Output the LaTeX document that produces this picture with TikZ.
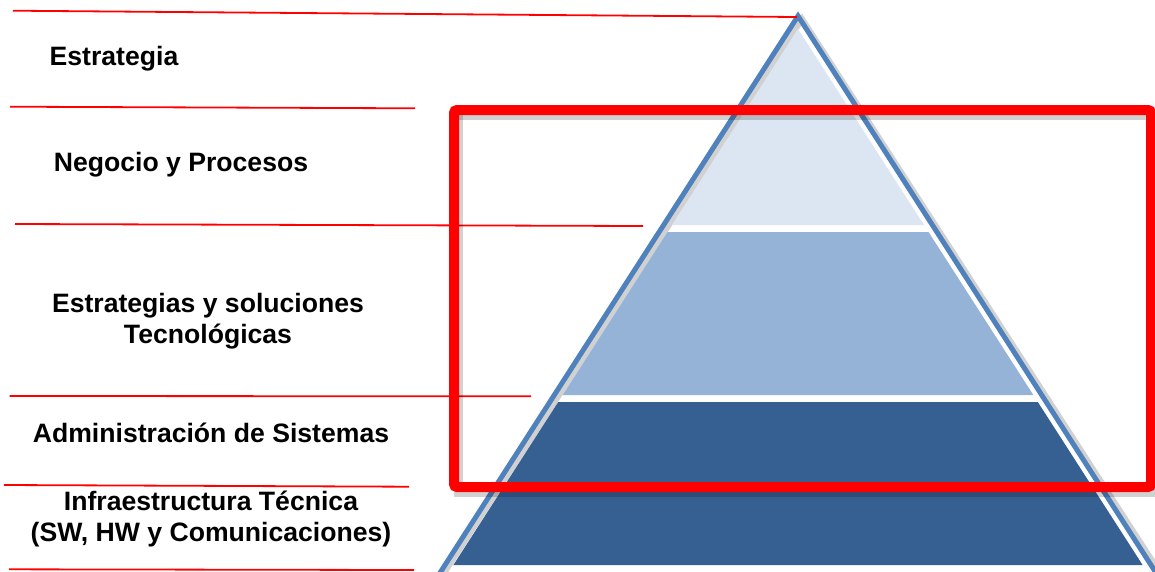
\documentclass[tikz,border=0pt]{standalone}
\usepackage{fontspec}
\setmainfont{Liberation Sans}
\usetikzlibrary{calc}

\definecolor{pyrline}{HTML}{4F81BD}
\definecolor{pyrlight}{HTML}{DCE6F2}
\definecolor{pyrmid}{HTML}{95B3D7}
\definecolor{pyrdark}{HTML}{376092}

\begin{document}
\begin{tikzpicture}[
		x=1pt,y=-1pt,
		band/.style={draw=none},
		sepline/.style={draw=red,line width=1.8pt},
		frame_shadow/.style={draw=black,opacity=0.18},
		lvl_text/.style={font=\bfseries\fontsize{26.6}{31}\selectfont,align=center,inner sep=0pt}
	]
		\clip (0,0) rectangle (1155,571);

		\draw [frame_shadow,line width=6pt,line join=miter] (426.5,600) -- (802,19) -- (1177.5,600);
		\draw [pyrline,line width=5pt,line join=miter] (422.5,600) -- (798,16) -- (1173.5,600);

		\fill [band,pyrlight] (798,29) -- (924,225) -- (672,225) -- cycle;
		\fill [band,pyrmid] (667.5,232) -- (928.5,232) -- (1033.3,395) -- (562.7,395) -- cycle;
		\fill [band,pyrdark] (558.2,402) -- (1037.8,402) -- (1142.6,565) -- (453.4,565) -- cycle;

		\draw [sepline] (13,10.7) -- (797,17);
		\draw [sepline] (10,106.7) -- (415,108.3);
		\draw [sepline] (15,224) -- (643,226);
		\draw [sepline] (9.6,396) -- (531,396.3);
		\draw [sepline] (4,485) -- (409,486.7);
		\draw [sepline] (9,569.3) -- (414,570);

		\node [lvl_text,anchor=base] (estrategia) at (114,65) {Estrategia};
		\node [lvl_text,anchor=base] (negocio) at (181,171) {Negocio y Procesos};
		\node [lvl_text] (soluciones) at (208,321) {Estrategias y soluciones\\Tecnológicas};
		\node [lvl_text,anchor=base] (admin) at (211,442) {Administración de Sistemas};
		\node [lvl_text] (infra) at (211,519) {Infraestructura Técnica\\(SW, HW y Comunicaciones)};

		\draw [frame_shadow,line width=9pt] (458,115) -- (458,492) -- (1160,492);
		\draw [frame_shadow,line width=9pt] (458,115) -- (1146,115);
		\draw [red,line width=10pt,rounded corners=3pt] (454,110) rectangle (1151,487);
	\end{tikzpicture}
\end{document}
